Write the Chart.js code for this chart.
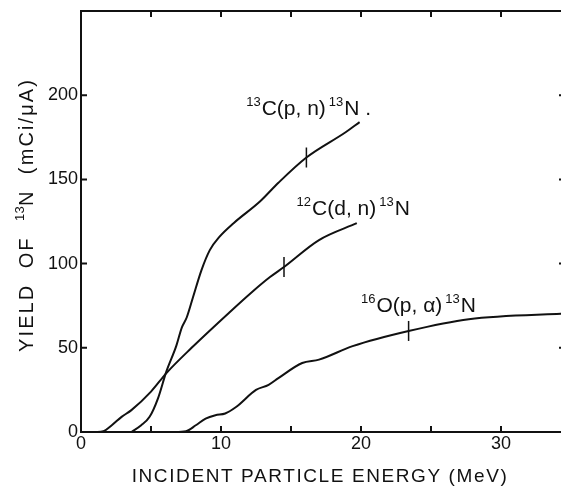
<!DOCTYPE html>
<html>
<head>
<meta charset="utf-8">
<script src="https://cdn.jsdelivr.net/npm/chart.js@4/dist/chart.umd.min.js"></script>
<style>
  html, body { margin: 0; padding: 0; background: #fff; overflow: hidden; }
</style>
</head>
<body>
<canvas id="yieldChart" width="575" height="487"></canvas>
<script>
// curve 13C(p,n)13N
const pnEnergy = [3.6, 4.3, 4.9, 5.5, 6.1, 6.8, 7.2, 7.55, 8.0, 8.6, 9.2, 9.9, 10.9, 12.8, 14.1, 16.1, 18.9, 19.9];
const pnYield  = [0, 4, 9, 20, 36, 51, 62, 68, 80, 96, 108, 116, 124, 137, 148, 163, 178, 184];

// curve 12C(d,n)13N
const dnEnergy = [1.0, 1.6, 2.2, 2.9, 3.6, 5.0, 6.1, 7.9, 10.6, 12.2, 13.5, 14.5, 17.0, 19.7];
const dnYield  = [0, 0.5, 4, 9, 13, 24, 35, 50, 71, 83, 92, 98, 114, 124];

// curve 16O(p,a)13N
const paEnergy = [6.5, 7.5, 8.2, 8.9, 9.6, 10.3, 11.1, 12.5, 13.4, 14.1, 15.8, 17.0, 19.4, 23.4, 27.7, 35.0];
const paYield  = [0, 0.5, 4, 8, 10, 11, 15, 25, 28, 32, 41, 43, 51, 60, 67, 70.5];

// small vertical marks on each curve
const markEnergy = [16.1, 14.5, 23.4];
const markYield  = [163, 98, 60];

const xTicks = [0, 10, 20, 30];
const yTicks = [0, 50, 100, 150, 200];

function pts(xs, ys) {
    return xs.map((x, i) => ({ x: x, y: ys[i] }));
}

function curve(xs, ys) {
    return {
        type: "line",
        data: pts(xs, ys),
        borderColor: "#111",
        borderWidth: 2,
        pointRadius: 0,
        fill: false,
        cubicInterpolationMode: "monotone",
    };
}

const FAMILY = "'Liberation Sans', Arial, sans-serif";

// frame, inward ticks, axis titles and curve labels
const decor = {
    id: "decor",
    afterDraw(chart) {
        const ctx = chart.ctx;
        const a = chart.chartArea;
        const xs = chart.scales.x;
        const ys = chart.scales.y;
        ctx.save();
        ctx.strokeStyle = "#111";
        ctx.lineWidth = 2;
        ctx.strokeRect(a.left, a.top, a.right - a.left, a.bottom - a.top);
        ctx.beginPath();
        for (let v = 5; v < 35; v += 5) {
            const px = xs.getPixelForValue(v);
            ctx.moveTo(px, a.bottom); ctx.lineTo(px, a.bottom - 6);
            ctx.moveTo(px, a.top); ctx.lineTo(px, a.top + 6);
        }
        for (let v = 50; v <= 200; v += 50) {
            const py = ys.getPixelForValue(v);
            ctx.moveTo(a.left, py); ctx.lineTo(a.left + 6, py);
            ctx.moveTo(a.right, py); ctx.lineTo(a.right - 12, py);
        }
        ctx.stroke();

        ctx.fillStyle = "#111";
        ctx.textBaseline = "alphabetic";

        // x title
        ctx.font = "19px " + FAMILY;
        ctx.letterSpacing = "1.6px";
        ctx.textAlign = "center";
        ctx.fillText("INCIDENT PARTICLE ENERGY (MeV)", 320, 482);

        // y title, rotated, with superscript
        const yParts = [["YIELD  OF  ", 20, 0, 2.1], ["13", 13, -9, 0.3], ["N  (mCi/μA)", 20, 0, 2.1]];
        ctx.textAlign = "left";
        let total = 0;
        yParts.forEach(p => {
            ctx.font = p[1] + "px " + FAMILY;
            ctx.letterSpacing = p[3] + "px";
            total += ctx.measureText(p[0]).width;
        });
        ctx.translate(33, 215);
        ctx.rotate(-Math.PI / 2);
        let tx = -total / 2;
        yParts.forEach(p => {
            ctx.font = p[1] + "px " + FAMILY;
            ctx.letterSpacing = p[3] + "px";
            ctx.fillText(p[0], tx, p[2]);
            tx += ctx.measureText(p[0]).width;
        });
        ctx.setTransform(1, 0, 0, 1, 0, 0);
        ctx.letterSpacing = "0px";

        // curve labels: [sup1, body, sup2, tail, energy, yield]
        const labels = [
            ["13", "C(p, n)", "13", "N .", 11.8, 188.5],
            ["12", "C(d, n)", "13", "N", 15.4, 129],
            ["16", "O(p, α)", "13", "N", 20.0, 71.5],
        ];
        const big = "21px " + FAMILY;
        const small = "13px " + FAMILY;
        labels.forEach(l => {
            let x = xs.getPixelForValue(l[4]);
            const y = ys.getPixelForValue(l[5]);
            ctx.font = small; ctx.fillText(l[0], x, y - 9); x += ctx.measureText(l[0]).width + 1;
            ctx.font = big; ctx.fillText(l[1], x, y); x += ctx.measureText(l[1]).width + 3;
            ctx.font = small; ctx.fillText(l[2], x, y - 9); x += ctx.measureText(l[2]).width + 1;
            ctx.font = big; ctx.fillText(l[3], x, y);
        });
        ctx.restore();
    },
};

const font = { family: FAMILY, size: 18 };

new Chart(document.getElementById("yieldChart"), {
    type: "line",
    data: {
        datasets: [
            curve(pnEnergy, pnYield),
            curve(dnEnergy, dnYield),
            curve(paEnergy, paYield),
            {
                type: "scatter",
                data: pts(markEnergy, markYield),
                pointStyle: "line",
                rotation: 90,
                pointRadius: 10,
                borderColor: "#111",
                borderWidth: 1.5,
                showLine: false,
            },
        ],
    },
    options: {
        responsive: false,
        animation: false,
        layout: { autoPadding: false, padding: { top: 11, right: 4, left: 0, bottom: 0 } },
        plugins: {
            legend: { display: false },
            tooltip: { enabled: false },
        },
        scales: {
            x: {
                type: "linear",
                min: 0,
                max: 35,
                afterFit: s => { s.height = 55; s.paddingLeft = 0; s.paddingRight = 0; },
                afterBuildTicks: s => { s.ticks = xTicks.map(v => ({ value: v })); },
                ticks: { color: "#111", font: font, padding: 1, maxRotation: 0 },
                grid: { display: false, drawTicks: false },
                border: { display: false },
            },
            y: {
                min: 0,
                max: 250,
                afterFit: s => { s.width = 81; s.paddingTop = 0; s.paddingBottom = 0; },
                afterBuildTicks: s => { s.ticks = yTicks.map(v => ({ value: v })); },
                ticks: { color: "#111", font: font, padding: 3 },
                grid: { display: false, drawTicks: false },
                border: { display: false },
            },
        },
    },
    plugins: [decor],
});
</script>
</body>
</html>
